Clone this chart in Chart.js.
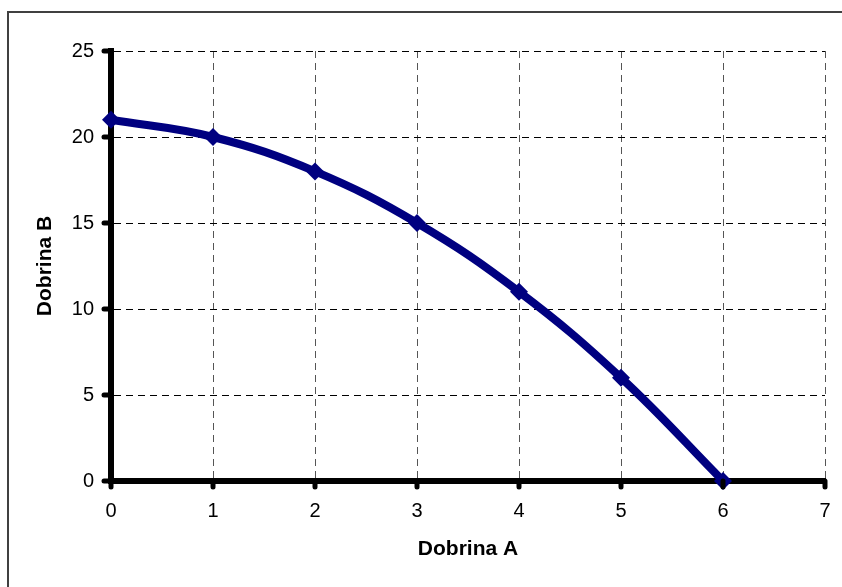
<!DOCTYPE html>
<html>
<head>
<meta charset="utf-8">
<script src="https://cdn.jsdelivr.net/npm/chart.js@4/dist/chart.umd.min.js"></script>
<style>
  html, body { margin: 0; padding: 0; background: #fff; }
  #wrap { width: 842px; height: 587px; }
</style>
</head>
<body>
<div id="wrap"><canvas id="c" width="842" height="587"></canvas></div>
<script>
// Production possibilities: quantity of good A vs good B
const goodA = [0, 1, 2, 3, 4, 5, 6];
const goodB = [21, 20, 18, 15, 11, 6, 0];
const xTitle = 'Dobrina A';
const yTitle = 'Dobrina B';
const xRange = [0, 7];
const yRange = [0, 25];

const points = goodA.map((a, i) => ({ x: a, y: goodB[i] }));

// white page with a thin frame round the chart
const framePlugin = {
  id: 'frame',
  beforeDraw(chart) {
    const ctx = chart.ctx;
    ctx.save();
    ctx.fillStyle = '#fff';
    ctx.fillRect(0, 0, chart.width, chart.height);
    ctx.strokeStyle = '#404040';
    ctx.lineWidth = 2;
    ctx.strokeRect(8, 12, 900, 900);
    ctx.restore();
  }
};

// rounded tick marks sticking out of both axes
const roundTicksPlugin = {
  id: 'roundTicks',
  afterDraw(chart) {
    const ctx = chart.ctx;
    const { x, y } = chart.scales;
    const area = chart.chartArea;
    ctx.save();
    ctx.strokeStyle = '#000';
    ctx.lineWidth = 5;
    ctx.lineCap = 'round';
    x.ticks.forEach(t => {
      const px = x.getPixelForValue(t.value);
      ctx.beginPath();
      ctx.moveTo(px, area.bottom);
      ctx.lineTo(px, area.bottom + 6);
      ctx.stroke();
    });
    y.ticks.forEach(t => {
      const py = y.getPixelForValue(t.value);
      ctx.beginPath();
      ctx.moveTo(area.left, py);
      ctx.lineTo(area.left - 7, py);
      ctx.stroke();
    });
    ctx.restore();
  }
};

const tickFont = { family: 'Liberation Sans, Arial, sans-serif', size: 20 };
const titleFont = { family: 'Liberation Sans, Arial, sans-serif', size: 21, weight: 'bold' };

new Chart(document.getElementById('c'), {
  type: 'line',
  data: {
    datasets: [{
      data: points,
      borderColor: '#000080',
      backgroundColor: '#000080',
      borderWidth: 8,
      tension: 0.4,
      pointStyle: 'rectRot',
      pointRadius: 9,
      pointHoverRadius: 9,
      pointBorderWidth: 0,
      clip: false
    }]
  },
  options: {
    responsive: false,
    animation: false,
    events: [],
    layout: { padding: { left: 29, top: 51, right: 17, bottom: 21 } },
    plugins: { legend: { display: false }, tooltip: { enabled: false } },
    scales: {
      x: {
        type: 'linear',
        min: xRange[0],
        max: xRange[1],
        afterFit(s) { s.height = 85; },
        ticks: { stepSize: 1, color: '#000', font: tickFont, padding: 10, maxRotation: 0 },
        grid: {
          color: '#555', lineWidth: 1,
          tickLength: 8, tickColor: 'rgba(0,0,0,0)', tickWidth: 1
        },
        border: { display: true, color: '#000', width: 6, dash: [7, 5] },
        title: { display: true, text: xTitle, color: '#000', font: titleFont, padding: 4 }
      },
      y: {
        min: yRange[0],
        max: yRange[1],
        afterFit(s) { s.width = 82; },
        ticks: { stepSize: 5, color: '#000', font: tickFont, padding: 9 },
        grid: {
          color: '#000', lineWidth: 1,
          tickLength: 8, tickColor: 'rgba(0,0,0,0)', tickWidth: 1
        },
        border: { display: true, color: '#000', width: 6, dash: [7, 5] },
        title: { display: true, text: yTitle, color: '#000', font: titleFont, padding: 4 }
      }
    }
  },
  plugins: [framePlugin, roundTicksPlugin]
});
</script>
</body>
</html>
